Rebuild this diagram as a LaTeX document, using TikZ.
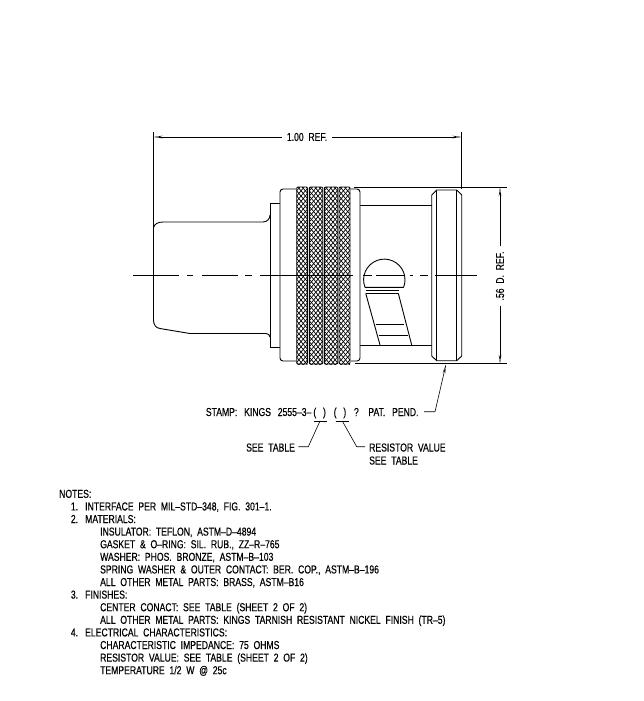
\documentclass[tikz,border=0pt]{standalone}
\usepackage{fontspec}
\setmainfont[FakeStretch=0.75,FakeBold=0.4,WordSpace=2.0]{Liberation Sans}
\usetikzlibrary{arrows.meta,matrix}
\newcommand{\noteitem}[2]{\hspace*{11.7pt}\makebox[14.3pt][l]{#1}#2}
\newcommand{\notesub}[1]{\hspace*{41pt}#1}

\begin{document}
\begin{tikzpicture}[
    x=1pt, y=-1pt,
    part/.style={line width=0.9pt, line join=round},
    thinline/.style={line width=0.6pt},
    dimline/.style={line width=0.6pt},
    dimtip/.style={dimline, -{Stealth[open, length=9pt, width=2.6pt, line width=0.3pt]}},
    label/.style={font=\fontsize{11.5}{12}\selectfont, inner sep=0, anchor=base west},
    notes/.style={
        matrix of nodes,
        row sep=0,
        inner sep=0,
        nodes={font=\fontsize{11.5}{12}\selectfont, anchor=base west, inner sep=0, text height=9.6pt, text depth=3pt}}]
\useasboundingbox (0,0) rectangle (644,701);

% connector body
\draw[part] (153.5,132) -- (153.5,320) .. controls (153.5,325) and (156,328) .. (160,328.5)
    -- (190,333.5) -- (266,333.5) .. controls (268,333.5) and (270,335) .. (270,337);
\draw[part] (153.5,228) .. controls (154,224) and (158,222) .. (163,222) -- (263,222)
    .. controls (267,222) and (270,219) .. (270,215);
\draw[part] (280,203) -- (270,203) -- (270,347) -- (280,347);
\draw[part, rounded corners=3pt] (296,189) -- (280,189) -- (280,361) -- (296,361);

% knurl bands
\foreach \xa/\xb in {296.7/307.3, 309.3/322.7, 324.3/337.7, 339/350}{
    \begin{scope}
    \clip (\xa,187) rectangle (\xb,364);
    \foreach \yy in {170,175.2,...,380}{
        \draw[line width=0.7pt] (\xa,\yy) -- (\xb,{\yy+(\xb-\xa)*1.2});
        \draw[line width=0.7pt] (\xa,\yy) -- (\xb,{\yy-(\xb-\xa)*1.2});
    }
    \end{scope}
    \draw[part, rounded corners=1pt] (\xa,187) rectangle (\xb,364);
}

% barrel
\draw[part, rounded corners=3pt] (350.5,189) -- (360,189) -- (360,361) -- (350.5,361);
\draw[part] (360,205.7) -- (431.7,205.7);
\draw[part] (360,345) -- (431.7,345);
\draw[part] (436.7,190) -- (431.7,195) -- (431.7,356) -- (436.7,360.7) -- (456.7,360.7)
    -- (461.7,356) -- (461.7,195) -- (456.7,190) -- cycle;
\draw[part] (436.7,190) -- (436.7,360.7);
\draw[part] (456.7,190) -- (456.7,360.7);

% bayonet slot
\draw[part] (365,287.3) arc[start angle=158.8, end angle=381.2, radius=20.7]
    -- cycle;
\draw[thinline] (365.7,290.7) -- (399,290.7);
\draw[part] (365.7,293.3) -- (380,345);
\draw[part] (398.3,293.3) -- (411.7,345);
\draw[part] (366,293.3) -- (398.3,293.3);
\draw[thinline] (375.7,324) -- (404.3,324);
\draw[thinline] (379,335.7) -- (407.7,335.7);

% center line
\draw[thinline, dash pattern=on 46pt off 8pt on 6pt off 9pt on 36pt off 7pt on 7pt off 8pt on 93pt off 10pt on 9pt off 4pt on 28pt off 6pt on 3pt off 7pt on 8pt off 7pt on 42pt off 100pt] (133,275) -- (477,275);

% dimensions
\coordinate (dimleft) at (153.5,137);
\coordinate (dimright) at (461.5,137);
\coordinate (dimtop) at (500,187.3);
\coordinate (dimbottom) at (500,363.7);
\node[label, anchor=center] (dimwidth) at (307,137) {1.00 REF.};
\node[label, anchor=center, rotate=90] (dimdia) at (500,276) {.56 D. REF.};
\draw[dimtip] (dimwidth.west) ++(-5,0) -- (dimleft);
\draw[dimtip] (dimwidth.east) ++(5,0) -- (dimright);
\draw[dimtip] (dimdia.east) ++(0,-5) -- (dimtop);
\draw[dimtip] (dimdia.west) ++(0,5) -- (dimbottom);
\draw[dimline] (461.7,132) -- (461.7,189);
\draw[dimline] (354,187.3) -- (506.7,187.3);
\draw[dimline] (355,363.7) -- (506.7,363.7);

% stamp callouts
\node[label] (stamp) at (205.7,416) {STAMP:\hspace{2pt} KINGS\hspace{2pt} 2555–3–\hspace{2pt}(\hspace{2pt} )\hspace{3pt} (\hspace{2pt} )\hspace{3pt} ?\hspace{4pt} PAT.\hspace{2pt} PEND.};
\node[label] (seetable) at (246,451.5) {SEE TABLE};
\node[label] (resistor) at (369,451.5) {RESISTOR VALUE};
\node[label] (resistortable) at (369,464.5) {SEE TABLE};
\coordinate (stampelbow) at (435,411.7);
\coordinate (stamptip) at (446,364.3);
\draw[dimtip] (424,411.7) -- (stampelbow) -- (stamptip);
\draw[dimline] (314,421) -- (326.7,421);
\draw[dimline] (335.7,421) -- (348.7,421);
\draw[dimline] (320,421) -- (308.3,446.7) -- (298.3,446.7);
\draw[dimline] (342.3,421) -- (356.7,446.7) -- (365,446.7);

% notes
\matrix (notesblock) [notes, anchor=north west] at (59,488) {
 NOTES: \\
 \noteitem{1.}{INTERFACE PER MIL–STD–348, FIG. 301–1.} \\
 \noteitem{2.}{MATERIALS:} \\
 \notesub{INSULATOR: TEFLON, ASTM–D–4894} \\
 \notesub{GASKET \& O–RING: SIL. RUB., ZZ–R–765} \\
 \notesub{WASHER: PHOS. BRONZE, ASTM–B–103} \\
 \notesub{SPRING WASHER \& OUTER CONTACT: BER. COP., ASTM–B–196} \\
 \notesub{ALL OTHER METAL PARTS: BRASS, ASTM–B16} \\
 \noteitem{3.}{FINISHES:} \\
 \notesub{CENTER CONACT: SEE TABLE (SHEET 2 OF 2)} \\
 \notesub{ALL OTHER METAL PARTS: KINGS TARNISH RESISTANT NICKEL FINISH (TR–5)} \\
 \noteitem{4.}{ELECTRICAL CHARACTERISTICS:} \\
 \notesub{CHARACTERISTIC IMPEDANCE: 75 OHMS} \\
 \notesub{RESISTOR VALUE: SEE TABLE (SHEET 2 OF 2)} \\
 \notesub{TEMPERATURE 1/2 W @ 25c} \\
};
\end{tikzpicture}
\end{document}
